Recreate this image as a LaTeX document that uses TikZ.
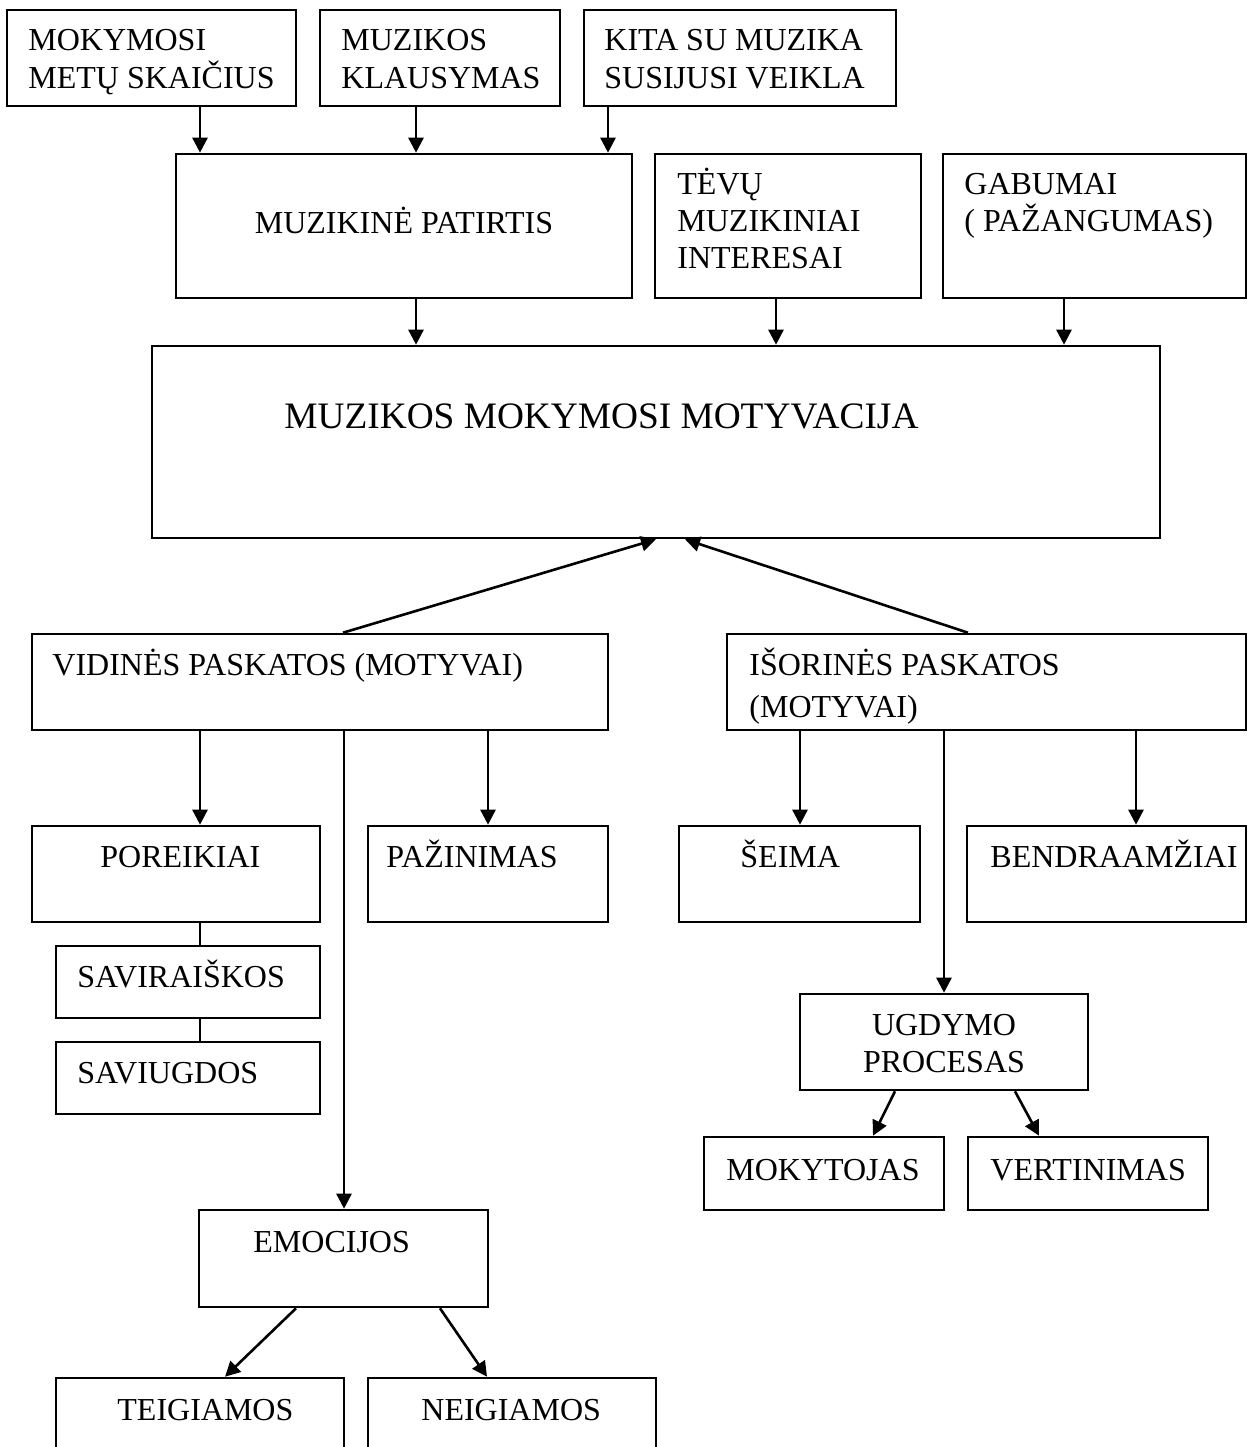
\documentclass[tikz,border=0pt]{standalone}
\usepackage{fontspec}
\setmainfont{Liberation Serif}
\usetikzlibrary{arrows.meta,fit}
\tikzset{
  box/.style={draw, line width=1.3pt, inner sep=0pt, fit={#1}},
  lbl/.style={anchor=base west, inner sep=0pt, font=\fontsize{16pt}{19pt}\selectfont},
  lblc/.style={anchor=base, inner sep=0pt, font=\fontsize{16pt}{19pt}\selectfont},
  big/.style={anchor=base west, inner sep=0pt, font=\fontsize{18.67pt}{22pt}\selectfont},
  arr/.style={line width=1.3pt, -{Triangle[length=7.5pt,width=7.5pt]}},
  ln/.style={line width=1.3pt},
}
\newcommand\mytxt[4]{\node[lbl] (#1) at (#2,#3) {#4};}
\begin{document}
\begin{tikzpicture}[x=0.5pt,y=-0.5pt]
\useasboundingbox (0,0) rectangle (1248,1447);
\clip (0,0) rectangle (1248,1447);
% boxes
\node[box={(7,10)(296,106)}] (mok) {};
\node[box={(320,10)(560,106)}] (klaus) {};
\node[box={(584,10)(896,106)}] (kita) {};
\node[box={(176,154)(632,298)}] (pat) {};
\node[box={(655,154)(921,298)}] (tevu) {};
\node[box={(943,154)(1246,298)}] (gab) {};
\node[box={(152,346)(1160,538)}] (main) {};
\node[box={(32,634)(608,730)}] (vid) {};
\node[box={(727,634)(1246,730)}] (isor) {};
\node[box={(32,826)(320,922)}] (por) {};
\node[box={(368,826)(608,922)}] (paz) {};
\node[box={(679,826)(920,922)}] (seima) {};
\node[box={(967,826)(1246,922)}] (bendr) {};
\node[box={(56,946)(320,1018)}] (savir) {};
\node[box={(56,1042)(320,1114)}] (saviu) {};
\node[box={(800,994)(1088,1090)}] (ugd) {};
\node[box={(704,1137)(944,1210)}] (moky) {};
\node[box={(968,1137)(1208,1210)}] (vert) {};
\node[box={(199,1210)(488,1307)}] (emo) {};
\node[box={(56,1378)(344,1470)}] (teig) {};
\node[box={(368,1378)(656,1470)}] (neig) {};
% texts
\mytxt{tmok1}{28}{50}{MOKYMOSI}
\mytxt{tmok2}{28}{88}{METŲ SKAIČIUS}
\mytxt{tkl1}{341}{50}{MUZIKOS}
\mytxt{tkl2}{341}{88}{KLAUSYMAS}
\mytxt{tki1}{604}{50}{KITA SU MUZIKA}
\mytxt{tki2}{604}{88}{SUSIJUSI VEIKLA}
\node[lblc] (tpat) at (404,233) {MUZIKINĖ PATIRTIS};
\mytxt{tte1}{677}{194}{TĖVŲ}
\mytxt{tte2}{677}{231}{MUZIKINIAI}
\mytxt{tte3}{677}{268}{INTERESAI}
\mytxt{tga1}{964}{194}{GABUMAI}
\mytxt{tga2}{964}{231}{( PAŽANGUMAS)}
\node[big] (tmain) at (284,428) {MUZIKOS MOKYMOSI MOTYVACIJA};
\mytxt{tvid}{52}{675}{VIDINĖS PASKATOS (MOTYVAI)}
\mytxt{tis1}{749}{675}{IŠORINĖS PASKATOS}
\mytxt{tis2}{749}{717}{(MOTYVAI)}
\mytxt{tpor}{100}{867}{POREIKIAI}
\mytxt{tpaz}{386}{867}{PAŽINIMAS}
\mytxt{tsei}{740}{867}{ŠEIMA}
\mytxt{tben}{990}{867}{BENDRAAMŽIAI}
\mytxt{tsvr}{77}{987}{SAVIRAIŠKOS}
\mytxt{tsvu}{77}{1083}{SAVIUGDOS}
\node[lblc] (tug1) at (944,1035) {UGDYMO};
\node[lblc] (tug2) at (944,1072) {PROCESAS};
\mytxt{tmok}{726}{1180}{MOKYTOJAS}
\mytxt{tver}{990}{1180}{VERTINIMAS}
\mytxt{temo}{253}{1252}{EMOCIJOS}
\mytxt{ttei}{117}{1420}{TEIGIAMOS}
\mytxt{tnei}{421}{1420}{NEIGIAMOS}
% x positions
\foreach \v in {200,225,296,343,344,416,440,487,488,608,656,685,776,800,873,895,944,968,1015,1039,1064,1136}
  \coordinate (x\v) at (\v,0);
% connectors
\draw[arr] (x200 |- mok.south) -- (x200 |- pat.north);
\draw[arr] (x416 |- klaus.south) -- (x416 |- pat.north);
\draw[arr] (x608 |- kita.south) -- (x608 |- pat.north);
\draw[arr] (x416 |- pat.south) -- (x416 |- main.north);
\draw[arr] (x776 |- tevu.south) -- (x776 |- main.north);
\draw[arr] (x1064 |- gab.south) -- (x1064 |- main.north);
\draw[arr] (x343 |- vid.north) -- (x656 |- main.south);
\draw[arr] (x968 |- isor.north) -- (x685 |- main.south);
\draw[arr] (x200 |- vid.south) -- (x200 |- por.north);
\draw[arr] (x344 |- vid.south) -- (x344 |- emo.north);
\draw[arr] (x488 |- vid.south) -- (x488 |- paz.north);
\draw[arr] (x800 |- isor.south) -- (x800 |- seima.north);
\draw[arr] (x944 |- isor.south) -- (x944 |- ugd.north);
\draw[arr] (x1136 |- isor.south) -- (x1136 |- bendr.north);
\draw[ln] (x200 |- por.south) -- (x200 |- savir.north);
\draw[ln] (x200 |- savir.south) -- (x200 |- saviu.north);
\draw[arr] (x895 |- ugd.south) -- (x873 |- moky.north);
\draw[arr] (x1015 |- ugd.south) -- (x1039 |- vert.north);
\draw[arr] (x296 |- emo.south) -- (x225 |- teig.north);
\draw[arr] (x440 |- emo.south) -- (x487 |- neig.north);
\end{tikzpicture}
\end{document}
